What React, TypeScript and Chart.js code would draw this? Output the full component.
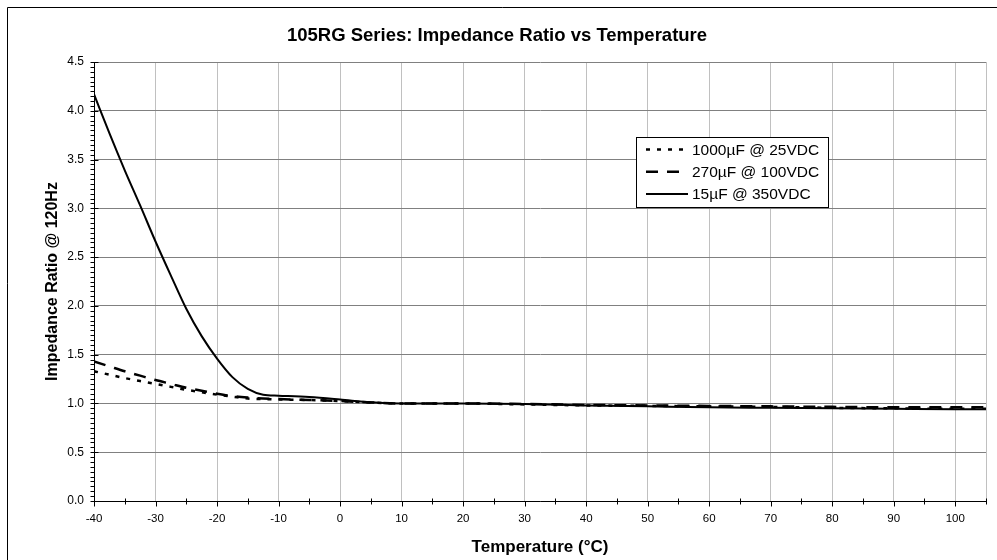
import React, { useEffect, useRef } from 'react';
import { Chart, registerables } from 'chart.js';

Chart.register(...registerables);

const TITLE = '105RG Series: Impedance Ratio vs Temperature';
const X_TITLE = 'Temperature (°C)';
const Y_TITLE = 'Impedance Ratio @ 120Hz';

const SERIES_LABELS = ['1000µF @ 25VDC', '270µF @ 100VDC', '15µF @ 350VDC'];

const TEMPS = [-40, -37.5, -35, -32.5, -30, -27.5, -25, -22.5, -20, -17.5, -15, -12.5, -10, -5, 0, 5, 10, 20, 30, 40, 50, 60, 70, 80, 90, 100, 105];

const RATIO_1000UF = [1.33, 1.295, 1.26, 1.23, 1.2, 1.17, 1.14, 1.115, 1.09, 1.07, 1.05, 1.045, 1.04, 1.035, 1.025, 1.01, 1.0, 1.0, 0.99, 0.98, 0.975, 0.97, 0.965, 0.955, 0.95, 0.945, 0.945];
const RATIO_270UF = [1.43, 1.38, 1.33, 1.285, 1.24, 1.2, 1.16, 1.13, 1.1, 1.075, 1.06, 1.05, 1.045, 1.035, 1.025, 1.01, 1.0, 1.0, 0.995, 0.985, 0.98, 0.975, 0.97, 0.965, 0.96, 0.96, 0.96];
const RATIO_15UF = [4.17, 3.77, 3.39, 3.03, 2.66, 2.31, 1.97, 1.69, 1.46, 1.27, 1.15, 1.09, 1.08, 1.065, 1.04, 1.012, 1.0, 1.0, 0.995, 0.98, 0.97, 0.96, 0.955, 0.95, 0.945, 0.94, 0.94];

const X_TICKS = [-40, -30, -20, -10, 0, 10, 20, 30, 40, 50, 60, 70, 80, 90, 100, 105];
const X_MIN = -40;
const X_MAX = 105;
const Y_MIN = 0;
const Y_MAX = 4.5;
const Y_STEP = 0.5;

const FONT = '"Liberation Sans", Arial, Helvetica, sans-serif';

const decorPlugin = {
  id: 'decor',
  afterDraw(chart: any) {
    const ctx = chart.ctx as CanvasRenderingContext2D;
    const xs = chart.scales.x;
    const ys = chart.scales.y;
    const { left, bottom } = chart.chartArea;
    ctx.save();
    ctx.strokeStyle = '#000';
    ctx.lineWidth = 1;
    ctx.beginPath();
    const lx = Math.round(left) + 0.5;
    const by = Math.round(bottom) + 0.5;
    // y ticks: major every 0.5 (crossing), minor every 0.05 (outside)
    for (let i = 0; i <= 90; i++) {
      const py = Math.round(ys.getPixelForValue(i * 0.05)) + 0.5;
      if (i % 10 === 0) {
        ctx.moveTo(lx - 4, py);
        ctx.lineTo(lx + 4, py);
      } else {
        ctx.moveTo(lx - 4, py);
        ctx.lineTo(lx, py);
      }
    }
    // x ticks (major every 10, minor every 5)
    for (let v = X_MIN; v <= X_MAX; v += 5) {
      const px = Math.round(xs.getPixelForValue(v)) + 0.5;
      if ((v - X_MIN) % 10 === 0) {
        ctx.moveTo(px, by);
        ctx.lineTo(px, by + 5);
      } else {
        ctx.moveTo(px, by - 3);
        ctx.lineTo(px, by + 3);
      }
    }
    ctx.stroke();

    // legend
    const bx = 636.5, bY = 137.5, bw = 192, bh = 70;
    ctx.fillStyle = '#fff';
    ctx.fillRect(bx, bY, bw, bh);
    ctx.strokeRect(bx, bY, bw, bh);
    ctx.font = `15.5px ${FONT}`;
    ctx.textBaseline = 'middle';
    ctx.textAlign = 'left';
    chart.data.datasets.forEach((ds: any, i: number) => {
      const ry = 149.5 + i * 22.2;
      ctx.save();
      ctx.strokeStyle = '#000';
      ctx.lineWidth = ds.borderWidth;
      ctx.setLineDash(ds.borderDash || []);
      ctx.beginPath();
      ctx.moveTo(646, ry);
      ctx.lineTo(688, ry);
      ctx.stroke();
      ctx.restore();
      ctx.fillStyle = '#000';
      ctx.fillText(ds.label, 692, ry + 1);
    });

    // outer frame (left and top edges visible)
    ctx.beginPath();
    ctx.strokeStyle = '#000';
    ctx.lineWidth = 1;
    ctx.moveTo(7.5, 560);
    ctx.lineTo(7.5, 7.5);
    ctx.lineTo(997, 7.5);
    ctx.stroke();
    ctx.restore();
  },
};

export default function App() {
  const ref = useRef<HTMLCanvasElement | null>(null);

  useEffect(() => {
    document.body.style.margin = '0';
    if (!ref.current) return;
    const mk = (ys: number[]) => TEMPS.map((t, i) => ({ x: t, y: ys[i] }));
    const chart = new Chart(ref.current, {
      type: 'line',
      data: {
        datasets: [
          {
            label: SERIES_LABELS[0],
            data: mk(RATIO_1000UF),
            borderColor: '#000',
            borderWidth: 2.5,
            borderDash: [4, 7],
            pointRadius: 0,
            cubicInterpolationMode: 'monotone',
            fill: false,
          },
          {
            label: SERIES_LABELS[1],
            data: mk(RATIO_270UF),
            borderColor: '#000',
            borderWidth: 2.5,
            borderDash: [12, 9],
            pointRadius: 0,
            cubicInterpolationMode: 'monotone',
            fill: false,
          },
          {
            label: SERIES_LABELS[2],
            data: mk(RATIO_15UF),
            borderColor: '#000',
            borderWidth: 2,
            borderDash: [],
            pointRadius: 0,
            cubicInterpolationMode: 'monotone',
            fill: false,
          },
        ],
      },
      options: {
        animation: false,
        responsive: false,
        devicePixelRatio: 1,
        layout: { padding: { left: 0, right: 3, top: 0, bottom: 0 } },
        plugins: {
          legend: { display: false },
          tooltip: { enabled: false },
          title: {
            display: true,
            text: TITLE,
            color: '#000',
            font: { family: FONT, size: 18.5, weight: 'bold' },
            padding: { top: 25, bottom: 14.8 },
          },
        },
        scales: {
          x: {
            type: 'linear',
            min: X_MIN,
            max: X_MAX,
            afterBuildTicks: (s: any) => {
              s.ticks = X_TICKS.map((v) => ({ value: v }));
            },
            afterFit: (s: any) => {
              s.height = 59;
            },
            ticks: {
              autoSkip: false,
              maxRotation: 0,
              minRotation: 0,
              padding: 11,
              color: '#000',
              font: { family: FONT, size: 11.5 },
              callback: (v: any) => (Number(v) === 105 ? '' : String(v)),
            },
            grid: { color: '#c0c0c0', lineWidth: 1, drawTicks: false },
            border: { color: '#000', width: 1 },
            title: {
              display: true,
              text: X_TITLE,
              color: '#000',
              font: { family: FONT, size: 17, weight: 'bold' },
              padding: { top: 0, bottom: 2 },
            },
          },
          y: {
            type: 'linear',
            min: Y_MIN,
            max: Y_MAX,
            afterFit: (s: any) => {
              s.width = 94;
            },
            ticks: {
              stepSize: Y_STEP,
              padding: 10,
              color: '#000',
              font: { family: FONT, size: 12 },
              callback: (v: any) => Number(v).toFixed(1),
            },
            grid: { color: '#808080', lineWidth: 1, drawTicks: false },
            border: { color: '#000', width: 1 },
            title: {
              display: true,
              text: Y_TITLE,
              color: '#000',
              font: { family: FONT, size: 16, weight: 'bold' },
              padding: { top: 43, bottom: 0 },
            },
          },
        },
      },
      plugins: [decorPlugin],
    } as any);
    return () => chart.destroy();
  }, []);

  return <canvas ref={ref} width={997} height={560} style={{ display: 'block' }} />;
}
